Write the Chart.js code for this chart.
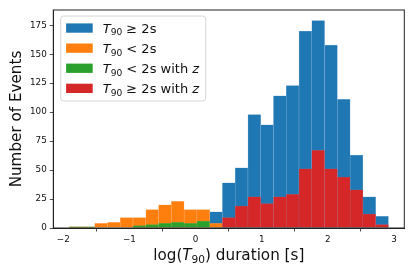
<!DOCTYPE html>
<html>
<head>
<meta charset="utf-8">
<script src="https://cdn.jsdelivr.net/npm/chart.js@4"></script>
<style>
  html, body { margin: 0; padding: 0; background: #fff; }
  #wrap { width: 415px; height: 277px; }
</style>
</head>
<body>
<div id="wrap"><canvas id="histChart"></canvas></div>
<script>
// bin edges of log(T90) histogram
const binEdges = [-1.911, -1.718, -1.525, -1.332, -1.139, -0.946, -0.752, -0.559, -0.366, -0.173,
    0.020, 0.213, 0.406, 0.599, 0.792, 0.985, 1.178, 1.371, 1.564, 1.757,
    1.951, 2.144, 2.337, 2.530, 2.723, 2.916];

// counts per bin
const longBursts   = [0, 0, 0, 0, 0, 0, 0, 0, 0, 0, 0, 14, 39, 52, 98, 89, 114, 123, 170, 179, 158, 111, 63, 27, 10];
const shortBursts  = [1, 1, 4, 5, 9, 9, 16, 20, 23, 16, 16, 4, 0, 0, 0, 0, 0, 0, 0, 0, 0, 0, 0, 0, 0];
const shortWithZ   = [1, 1, 0, 0, 0, 2, 3, 4, 5, 4, 6, 0, 0, 0, 0, 0, 0, 0, 0, 0, 0, 0, 0, 0, 0];
const longWithZ    = [0, 0, 0, 0, 0, 0, 0, 0, 0, 0, 0, 0, 9, 19, 27, 21, 27, 29, 51, 67, 51, 44, 33, 12, 3];

const xTicks = [-2, -1, 0, 1, 2, 3];
const yTicks = [0, 25, 50, 75, 100, 125, 150, 175];

// legend text, $..$ = italic, _.._ = subscript
const legendLabels = ['$T$_90_ ≥ 2s', '$T$_90_ < 2s', '$T$_90_ < 2s with $z$', '$T$_90_ ≥ 2s with $z$'];
const xTitle = 'log($T$_90_) duration [s]';

const FONT = "'DejaVu Sans', sans-serif";

function toPoints(counts) {
    return counts.map((v, i) => ({ x: (binEdges[i] + binEdges[i + 1]) / 2, y: v === 0 ? null : v }));
}

function parseRich(str) {
    const parts = [];
    const re = /\$([^$]+)\$|_([^_]+)_|([^$_]+)/g;
    let m;
    while ((m = re.exec(str)) !== null) {
        if (m[1]) parts.push({ t: m[1], it: true });
        else if (m[2]) parts.push({ t: m[2], sub: true });
        else parts.push({ t: m[3] });
    }
    return parts;
}

function partFont(p, size) {
    const s = p.sub ? size * 0.7 : size;
    return (p.it ? 'italic ' : '') + s + 'px ' + FONT;
}

function drawRich(ctx, str, x, y, size, align) {
    const parts = parseRich(str);
    let total = 0;
    parts.forEach(p => { ctx.font = partFont(p, size); total += ctx.measureText(p.t).width; });
    let cx = align === 'center' ? x - total / 2 : x;
    ctx.textAlign = 'left';
    ctx.textBaseline = 'alphabetic';
    parts.forEach(p => {
        ctx.font = partFont(p, size);
        ctx.fillText(p.t, cx, p.sub ? y + size * 0.22 : y);
        cx += ctx.measureText(p.t).width;
    });
}

const colors = ['#1f77b4', '#ff7f0e', '#2ca02c', '#d62728'];

const extras = {
    id: 'extras',
    afterDraw(chart) {
        const ctx = chart.ctx;
        const a = chart.chartArea;
        ctx.save();
        // frame
        ctx.strokeStyle = '#222';
        ctx.lineWidth = 1;
        ctx.strokeRect(a.left, a.top, a.right - a.left, a.bottom - a.top);

        // x title
        ctx.fillStyle = '#111';
        drawRich(ctx, xTitle, (a.left + a.right) / 2, 260, 15.2, 'center');

        // legend
        const bx = a.left + 7.4, by = a.top + 6, bw = 145, bh = 85;
        ctx.beginPath();
        ctx.roundRect(bx, by, bw, bh, 3);
        ctx.fillStyle = 'rgba(255,255,255,0.85)';
        ctx.fill();
        ctx.strokeStyle = '#d6d6d6';
        ctx.lineWidth = 1;
        ctx.stroke();
        legendLabels.forEach((lab, i) => {
            const cy = by + 12 + i * 20.1;
            ctx.fillStyle = colors[i];
            ctx.fillRect(bx + 5.4, cy - 4.6, 26.6, 9.3);
            ctx.fillStyle = '#111';
            drawRich(ctx, lab, bx + 42, cy + 4.6, 13, 'left');
        });
        ctx.restore();
    }
};

function barSet(label, counts, color, edge, order) {
    return {
        label: label,
        data: toPoints(counts),
        backgroundColor: color,
        borderColor: edge,
        borderWidth: 0.5,
        borderSkipped: 'bottom',
        barPercentage: 1,
        categoryPercentage: 1,
        grouped: false,
        order: order
    };
}

new Chart(document.getElementById('histChart').getContext('2d'), {
    type: 'bar',
    data: {
        datasets: [
            barSet('T90 ≥ 2s', longBursts, colors[0], 'rgba(120,170,215,0.8)', 4),
            barSet('T90 < 2s', shortBursts, colors[1], 'rgba(255,160,90,0.6)', 3),
            barSet('T90 < 2s with z', shortWithZ, colors[2], 'rgba(90,180,90,0.6)', 2),
            barSet('T90 ≥ 2s with z', longWithZ, colors[3], 'rgba(225,90,90,0.6)', 1)
        ]
    },
    options: {
        responsive: true,
        maintainAspectRatio: false,
        animation: false,
        layout: { padding: { top: 10, right: 10.7, left: 0, bottom: 0 } },
        plugins: {
            legend: { display: false },
            tooltip: { enabled: false }
        },
        scales: {
            x: {
                type: 'linear',
                offset: false,
                min: -2.151,
                max: 3.156,
                afterFit: s => { s.height = 49; },
                afterBuildTicks: s => { s.ticks = xTicks.map(v => ({ value: v })); },
                ticks: {
                    font: { family: FONT, size: 8.8 },
                    color: '#111',
                    padding: 3,
                    maxRotation: 0,
                    callback: v => (v < 0 ? '\u2212' + Math.abs(v) : String(v))
                },
                grid: { drawOnChartArea: false, drawTicks: true, tickLength: 3.5, color: '#222', tickWidth: 0.8 },
                border: { display: true, color: '#222', width: 1 }
            },
            y: {
                min: 0,
                max: 188.2,
                afterFit: s => { s.width = 53.3; },
                afterBuildTicks: s => { s.ticks = yTicks.map(v => ({ value: v })); },
                ticks: {
                    font: { family: FONT, size: 8.8 },
                    color: '#111',
                    padding: 3
                },
                grid: { drawOnChartArea: false, drawTicks: true, tickLength: 3.5, color: '#222', tickWidth: 0.8 },
                border: { display: true, color: '#222', width: 1 },
                title: {
                    display: true,
                    text: 'Number of Events',
                    font: { family: FONT, size: 15.2 },
                    color: '#111',
                    padding: { top: 7.5, bottom: 0 }
                }
            }
        }
    },
    plugins: [extras]
});
</script>
</body>
</html>
